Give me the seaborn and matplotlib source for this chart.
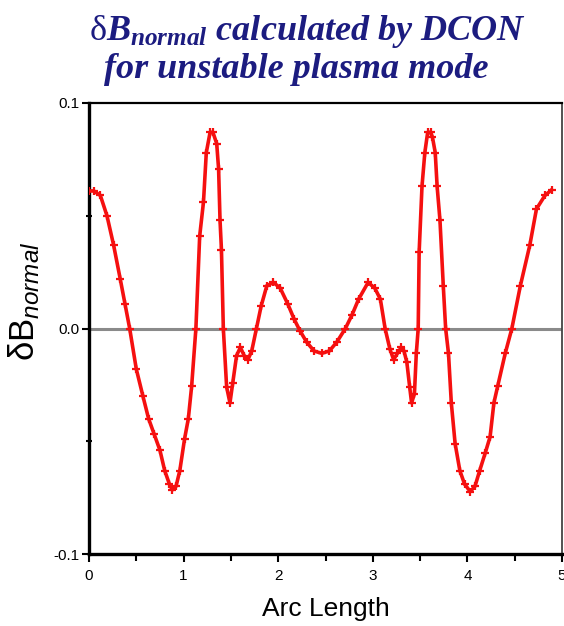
import matplotlib
matplotlib.use("Agg")
import matplotlib.pyplot as plt
import seaborn as sns
import pandas as pd

# ---- data ----
arc_length = [0.00, 0.05, 0.12, 0.19, 0.26, 0.33, 0.38, 0.43, 0.50, 0.57, 0.63,
              0.69, 0.75, 0.80, 0.85, 0.88, 0.92, 0.96, 1.01, 1.05, 1.085, 1.13,
              1.17, 1.21, 1.24, 1.28, 1.31, 1.35, 1.37, 1.385, 1.40, 1.42, 1.455,
              1.49, 1.52, 1.56, 1.60, 1.64, 1.68, 1.72, 1.77, 1.82, 1.88, 1.95,
              2.02, 2.10, 2.17, 2.23, 2.30, 2.38, 2.46, 2.54, 2.62, 2.71, 2.78,
              2.85, 2.95, 3.02, 3.08, 3.13, 3.18, 3.22, 3.26, 3.30, 3.33, 3.36,
              3.39, 3.41, 3.44, 3.46, 3.48, 3.49, 3.52, 3.55, 3.58, 3.61, 3.63,
              3.66, 3.68, 3.71, 3.745, 3.77, 3.80, 3.83, 3.87, 3.92, 3.97, 4.03,
              4.08, 4.13, 4.19, 4.24, 4.28, 4.32, 4.40, 4.47, 4.56, 4.66, 4.73,
              4.82, 4.89]
db_normal = [0.061, 0.061, 0.059, 0.050, 0.037, 0.022, 0.011, 0.000, -0.018, -0.030, -0.040,
             -0.047, -0.054, -0.063, -0.069, -0.0716, -0.070, -0.063, -0.049, -0.040, -0.0256, 0.000,
             0.041, 0.056, 0.078, 0.087, 0.087, 0.082, 0.0707, 0.048, 0.035, 0.000, -0.026,
             -0.033, -0.024, -0.012, -0.0084, -0.012, -0.0138, -0.010, 0.000, 0.010, 0.019, 0.0204,
             0.018, 0.011, 0.004, -0.001, -0.006, -0.010, -0.011, -0.010, -0.006, 0.000, 0.006,
             0.013, 0.0204, 0.018, 0.013, 0.000, -0.009, -0.0138, -0.011, -0.0084, -0.010, -0.015,
             -0.026, -0.033, -0.029, -0.011, 0.000, 0.034, 0.063, 0.078, 0.087, 0.087, 0.085,
             0.078, 0.063, 0.048, 0.019, 0.000, -0.011, -0.033, -0.051, -0.063, -0.069, -0.0723,
             -0.070, -0.063, -0.055, -0.048, -0.033, -0.0256, -0.011, 0.000, 0.019, 0.037, 0.053,
             0.059, 0.0615]
x_ticks = [0, 1, 2, 3, 4, 5]
y_ticks = [-0.1, 0.0, 0.1]
y_tick_labels = ["-0.1", "0.0", "0.1"]

plt.rcParams["mathtext.fontset"] = "custom"
plt.rcParams["mathtext.rm"] = "Liberation Serif"
plt.rcParams["mathtext.it"] = "Liberation Serif:italic:bold"
plt.rcParams["mathtext.bf"] = "Liberation Sans:italic"
plt.rcParams["mathtext.sf"] = "Liberation Sans"
plt.rcParams["font.family"] = ["Liberation Sans", "DejaVu Sans"]

df = pd.DataFrame({"arc": arc_length, "db": db_normal})

fig = plt.figure(figsize=(5.64, 6.26), dpi=100)
ax = fig.add_axes([89 / 564, 1 - 554 / 626, (562 - 89) / 564, (554 - 103) / 626])

ax.axhline(0.0, color="#8a8a8a", lw=2.2, zorder=1)
sns.lineplot(data=df, x="arc", y="db", ax=ax, color="#f51010", lw=2.6,
             marker="+", markersize=6, markeredgewidth=1.6, markeredgecolor="#f51010",
             zorder=3)

ax.set_xlim(0, 5)
ax.set_ylim(-0.1, 0.1)
ax.set_xticks(x_ticks)
ax.set_xticks([0.5, 1.5, 2.5, 3.5, 4.5], minor=True)
ax.set_yticks(y_ticks)
ax.set_yticklabels(y_tick_labels)
ax.set_yticks([-0.05, 0.05], minor=True)
ax.tick_params(axis="x", which="major", direction="out", length=6, width=1.5,
               labelsize=11, pad=5, color="black")
ax.tick_params(axis="x", which="minor", direction="out", length=5, width=1.5)
ax.tick_params(axis="y", which="major", direction="out", length=5, width=1.5,
               labelsize=11, pad=2)
ax.tick_params(axis="y", which="minor", direction="inout", length=4, width=1.5)

for side, w, c in [("left", 2.4, "black"), ("bottom", 2.4, "black"),
                   ("top", 1.6, "black"), ("right", 1.3, "#444444")]:
    ax.spines[side].set_linewidth(w)
    ax.spines[side].set_color(c)

ax.set_xlabel("Arc Length", fontsize=19, labelpad=10)
ax.set_ylabel(r"$\mathsf{\delta B}_{\mathbf{normal}}$", fontsize=25)
ax.yaxis.set_label_coords(-0.10, 0.56)

navy = "#1c1c80"
fig.text(307 / 564, 1 - 31 / 626, r"$\mathrm{\delta}B_{normal}$ calculated by DCON",
         ha="center", va="center", fontsize=26, color=navy,
         family="Liberation Serif", weight="bold", style="italic")
fig.text(296 / 564, 1 - 69 / 626, "for unstable plasma mode",
         ha="center", va="center", fontsize=26, color=navy,
         family="Liberation Serif", weight="bold", style="italic")

fig.savefig("out.png", dpi=100)
